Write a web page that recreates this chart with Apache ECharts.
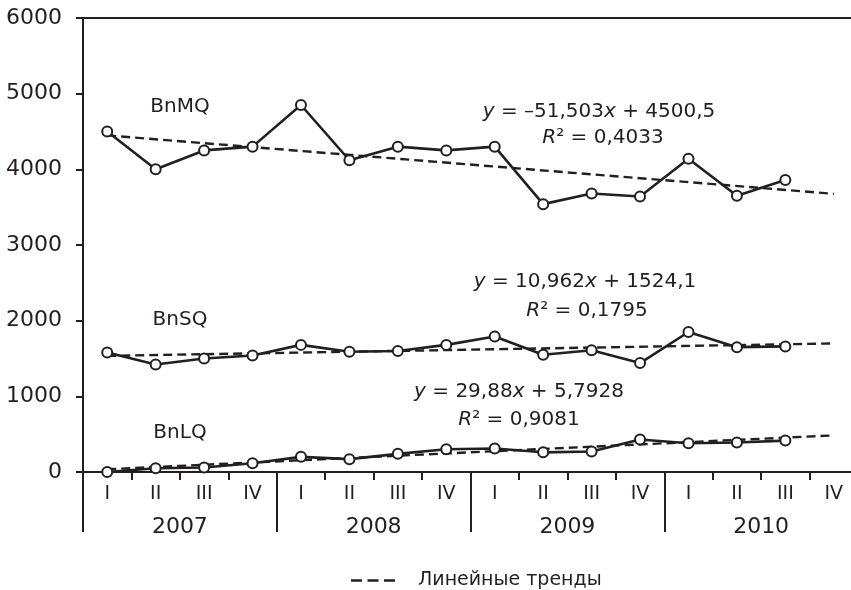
<!DOCTYPE html>
<html>
<head>
<meta charset="utf-8">
<script src="https://cdn.jsdelivr.net/npm/echarts@6/dist/echarts.min.js"></script>
<style>html,body{margin:0;padding:0;background:#fff;}#c{width:851px;height:590px;}</style>
</head>
<body>
<div id="c"></div>
<script>
const quarters = ['I','II','III','IV','I','II','III','IV','I','II','III','IV','I','II','III','IV'];
const years = ['2007','2008','2009','2010'];
const yTicks = [0, 1000, 2000, 3000, 4000, 5000, 6000];
const bnMQ = [4500,4000,4250,4300,4850,4120,4300,4250,4300,3540,3680,3640,4140,3650,3860];
const bnSQ = [1580,1420,1500,1540,1680,1590,1600,1680,1790,1550,1610,1440,1850,1650,1660];
const bnLQ = [0,50,60,115,200,170,240,300,310,260,270,430,380,390,415];
// trend line end values (at I 2007 and IV 2010)
const mqTrend = [4449, 3676];
const sqTrend = [1535, 1699];
const lqTrend = [36, 484];
const trendName = 'Линейные тренды';

function trendData(ends) {
  const arr = new Array(quarters.length).fill(null);
  arr[0] = ends[0];
  arr[quarters.length - 1] = ends[1];
  return arr;
}

const ink = '#231f20';
const font = 'DejaVu Sans';

function solid(name, data) {
  return {
    name: name, type: 'line', data: data, z: 3,
    symbol: 'emptyCircle', symbolSize: 10,
    itemStyle: { color: ink, borderColor: ink, borderWidth: 2.2 },
    lineStyle: { color: ink, width: 2.6 },
    emphasis: { disabled: true }
  };
}
function trend(data) {
  return {
    name: trendName, type: 'line', data: trendData(data), z: 2,
    connectNulls: true, symbol: 'none', showSymbol: false,
    itemStyle: { color: ink },
    lineStyle: { color: ink, width: 2.4, type: [9, 5] },
    emphasis: { disabled: true }
  };
}

const chart = echarts.init(document.getElementById('c'));
const rich = { i: { fontStyle: 'italic', fontSize: 20, fontFamily: font, fill: ink } };
function txt(x, y, s, isEq) {
  return {
    type: 'text', x: x, y: y, z: 10,
    style: {
      text: s, fill: ink, fontSize: 20, fontFamily: font,
      align: 'center', verticalAlign: 'middle', rich: isEq ? rich : undefined
    }
  };
}

chart.setOption({
  animation: false,
  backgroundColor: '#fff',
  textStyle: { fontFamily: font, color: ink },
  grid: { left: 83, right: -7, top: 18, bottom: 118, containLabel: false, outerBoundsMode: 'none' },
  legend: {
    data: [{ name: trendName, icon: 'path://M0,0H11V2.6H0Z M16.5,0H27.5V2.6H16.5Z M33,0H44V2.6H33Z' }],
    left: 346, top: 566, itemWidth: 44, itemHeight: 14,
    selectedMode: false,
    textStyle: { fontSize: 19, color: ink, fontFamily: font, padding: [0, 0, 0, 18] }
  },
  xAxis: [
    {
      type: 'category', data: quarters, position: 'bottom', boundaryGap: true,
      axisLine: { show: true, onZero: false, lineStyle: { color: ink, width: 2 } },
      axisTick: { show: true, interval: 0, length: 8, lineStyle: { color: ink, width: 2 } },
      axisLabel: { interval: 0, margin: 13, fontSize: 19, color: ink, fontFamily: font },
      splitLine: { show: false }
    },
    {
      type: 'category', data: years, position: 'bottom', boundaryGap: true,
      axisLine: { show: false, onZero: false },
      axisTick: { show: true, interval: 0, length: 60, lineStyle: { color: ink, width: 2 } },
      axisLabel: { interval: 0, margin: 44, fontSize: 22, color: ink, fontFamily: font },
      splitLine: { show: false }
    },
    {
      type: 'category', data: quarters, position: 'top', boundaryGap: true,
      axisLine: { show: true, onZero: false, lineStyle: { color: ink, width: 2 } },
      axisTick: { show: false }, axisLabel: { show: false }, splitLine: { show: false }
    }
  ],
  yAxis: {
    type: 'value', min: yTicks[0], max: yTicks[yTicks.length - 1], interval: 1000,
    axisLine: { show: true, lineStyle: { color: ink, width: 2 } },
    axisTick: { show: true, length: 7, lineStyle: { color: ink, width: 2 } },
    axisLabel: { margin: 21, fontSize: 22, color: ink, fontFamily: font, formatter: function (v) { return String(v); } },
    splitLine: { show: false }
  },
  series: [
    solid('BnMQ', bnMQ), solid('BnSQ', bnSQ), solid('BnLQ', bnLQ),
    trend(mqTrend), trend(sqTrend), trend(lqTrend)
  ],
  graphic: [
    txt(180, 107, 'BnMQ'),
    txt(180, 320, 'BnSQ'),
    txt(180, 433, 'BnLQ'),
    txt(599, 112, '{i|y} = –51,503{i|x} + 4500,5', true),
    txt(603, 138, '{i|R}² = 0,4033', true),
    txt(585, 282, '{i|y} = 10,962{i|x} + 1524,1', true),
    txt(587, 311, '{i|R}² = 0,1795', true),
    txt(519, 392, '{i|y} = 29,88{i|x} + 5,7928', true),
    txt(519, 420, '{i|R}² = 0,9081', true)
  ]
});
</script>
</body>
</html>
